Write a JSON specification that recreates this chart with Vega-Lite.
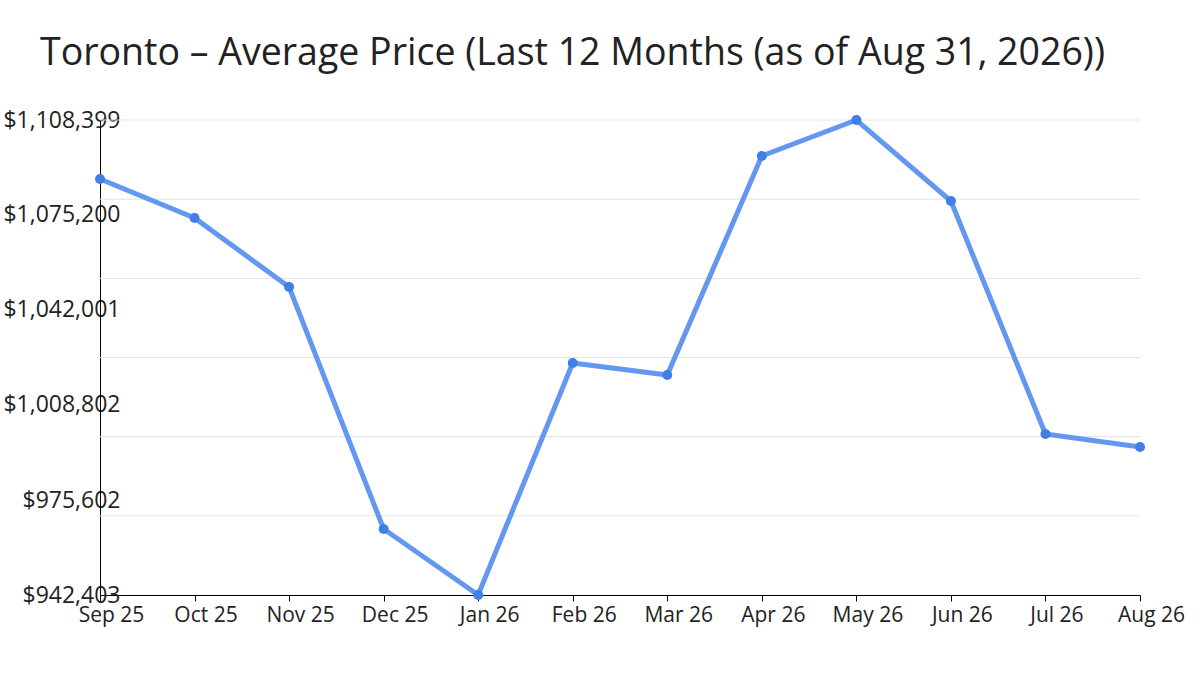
{
  "$schema": "https://vega.github.io/schema/vega-lite/v6.json",
  "width": 1040,
  "height": 475,
  "autosize": "none",
  "padding": {"left": 100, "top": 120, "right": 60, "bottom": 80},
  "background": "white",
  "title": {
    "text": "Toronto – Average Price (Last 12 Months (as of Aug 31, 2026))",
    "anchor": "start",
    "frame": "group",
    "dx": -60,
    "offset": 7,
    "baseline": "alphabetic",
    "font": "Open Sans",
    "fontSize": 37.5,
    "fontWeight": "normal",
    "color": "#222222"
  },
  "config": {
    "view": {"stroke": null},
    "axis": {"labelFont": "Open Sans", "labelFontSize": 21, "labelColor": "#222222"}
  },
  "datasets": {
    "prices": [
      {"month": "Sep 25", "price": 1087781},
      {"month": "Oct 25", "price": 1074152},
      {"month": "Nov 25", "price": 1050039},
      {"month": "Dec 25", "price": 965468},
      {"month": "Jan 26", "price": 942403},
      {"month": "Feb 26", "price": 1023480},
      {"month": "Mar 26", "price": 1019286},
      {"month": "Apr 26", "price": 1095819},
      {"month": "May 26", "price": 1108399},
      {"month": "Jun 26", "price": 1080093},
      {"month": "Jul 26", "price": 998667},
      {"month": "Aug 26", "price": 994124}
    ],
    "grid": [
      {"g": 970069},
      {"g": 997735},
      {"g": 1025401},
      {"g": 1053067},
      {"g": 1080733},
      {"g": 1108399}
    ]
  },
  "layer": [
    {
      "data": {"name": "grid"},
      "mark": {"type": "rule", "stroke": "#e3e3e3", "strokeWidth": 1},
      "encoding": {
        "y": {
          "field": "g",
          "type": "quantitative",
          "scale": {"domain": [942403, 1108399], "nice": false, "zero": false},
          "axis": {
            "title": null,
            "values": [942403, 975602, 1008802, 1042001, 1075200, 1108399],
            "format": "$,.0f",
            "grid": false,
            "ticks": false,
            "domainColor": "#000000",
            "labelFontSize": 23,
            "labelAlign": "right",
            "labelPadding": -20,
            "labelDy": -2,
            "labelFlush": false,
            "labelOverlap": false
          }
        }
      }
    },
    {
      "data": {"name": "prices"},
      "encoding": {
        "x": {
          "field": "month",
          "type": "ordinal",
          "sort": null,
          "scale": {"type": "point", "padding": 0},
          "axis": {
            "title": null,
            "labelAngle": 0,
            "domainColor": "#000000",
            "tickColor": "#000000",
            "tickSize": 6,
            "labelPadding": 3,
            "labelOffset": 11,
            "grid": false
          }
        },
        "y": {
          "field": "price",
          "type": "quantitative",
          "scale": {"domain": [942403, 1108399], "nice": false, "zero": false},
          "axis": {
            "title": null,
            "values": [942403, 975602, 1008802, 1042001, 1075200, 1108399],
            "format": "$,.0f",
            "grid": false,
            "ticks": false,
            "domainColor": "#000000",
            "labelFontSize": 23,
            "labelAlign": "right",
            "labelPadding": -20,
            "labelDy": -2,
            "labelFlush": false,
            "labelOverlap": false
          }
        }
      },
      "layer": [
        {"mark": {"type": "line", "stroke": "#5b92ef", "strokeWidth": 5, "opacity": 0.95}},
        {"mark": {"type": "circle", "size": 100, "color": "#3e7fe9", "opacity": 1}}
      ]
    }
  ]
}
